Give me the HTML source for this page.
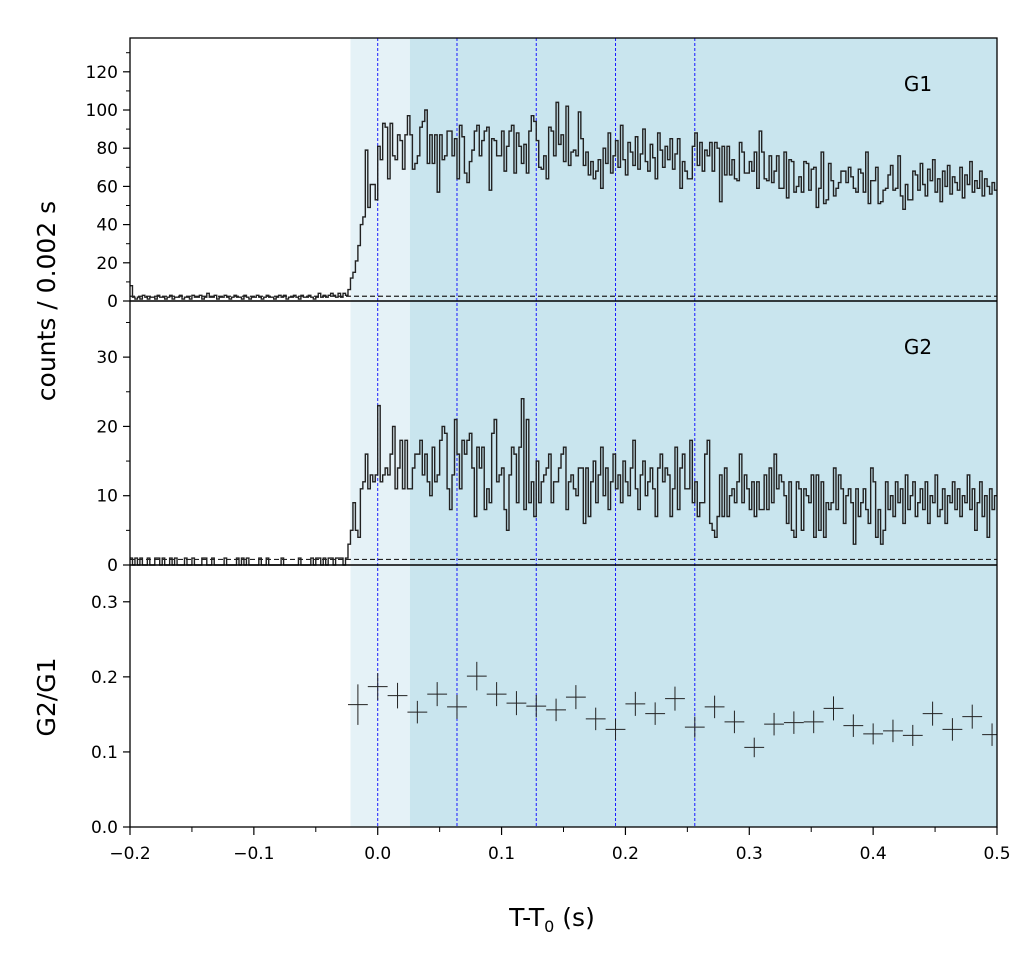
<!DOCTYPE html>
<html><head><meta charset="utf-8"><style>
html,body{margin:0;padding:0;background:#fff;}
svg{display:block;font-family:"DejaVu Sans","Liberation Sans",sans-serif;}
</style></head><body>
<svg id="chart" width="1034" height="965" viewBox="0 0 1034 965" xmlns="http://www.w3.org/2000/svg">
<defs><clipPath id="plotclip"><rect x="130" y="38" width="867" height="789"/></clipPath></defs>
</svg>
<script>
// ---- data ----
const tStart = -0.2;
const binWidth = 0.002;
const g1Counts = [8,2,1,2,1,3,2,1,2,2,1,3,2,2,1,2,3,1,2,2,3,1,2,2,1,3,2,2,3,1,2,4,2,2,3,1,2,2,3,2,1,2,3,2,2,1,3,2,1,2,2,3,2,1,2,3,2,2,1,2,3,2,3,1,2,2,3,2,1,3,2,2,3,2,1,2,4,2,3,2,3,4,3,2,4,2,4,
3,6,12,15,21,29,40,44,79,49,61,61,53,
81,74,93,91,64,93,76,74,87,84,69,87,97,87,69,72,76,91,94,100,72,87,72,87,57,87,74,76,89,89,76,85,64,92,86,67,62,73,79,89,92,76,84,89,91,58,85,84,76,76,89,68,81,89,92,67,88,81,72,82,67,89,97,94,84,70,69,76,64,91,89,76,104,82,87,73,102,71,78,79,76,99,85,71,78,66,73,64,68,74,59,
80,72,88,67,76,84,70,92,74,66,83,78,71,86,69,77,90,73,68,82,75,64,88,79,70,81,74,85,69,77,
85,59,73,68,64,64,81,88,71,83,68,79,76,83,68,83,80,52,81,66,81,66,74,64,63,83,78,67,67,73,68,78,59,89,78,64,63,76,62,68,76,59,59,78,54,74,73,57,60,65,57,73,72,58,69,70,49,59,78,51,53,72,63,55,59,62,68,68,62,70,65,59,57,69,67,57,78,51,63,63,70,51,52,58,59,66,71,58,59,76,55,48,61,53,53,68,
66,58,72,61,55,69,63,74,57,64,52,68,60,71,56,65,62,58,70,54,66,61,73,57,63,59,68,55,64,60,56,62,58];
const g2Counts = [1,0,1,0,1,0,0,1,0,0,1,1,0,1,0,0,1,0,1,0,0,0,1,0,0,1,0,0,0,1,1,0,0,1,0,0,0,0,1,0,0,0,0,1,0,1,0,1,0,0,0,0,1,0,0,1,0,0,0,0,0,1,0,0,0,0,0,0,1,0,0,0,0,1,0,1,1,0,1,0,1,1,0,1,1,1,0,
1,3,5,9,5,4,11,12,16,11,13,12,
13,23,12,13,14,13,16,20,11,14,18,11,18,11,11,14,16,16,18,13,16,12,10,17,12,13,18,20,19,11,8,13,21,16,11,18,16,18,19,14,7,17,14,17,8,11,9,19,21,12,13,14,8,5,13,17,16,9,17,24,8,21,9,12,7,15,9,12,13,14,16,9,12,12,14,16,17,8,12,13,11,10,14,14,6,14,7,
12,15,9,13,17,10,14,8,12,16,11,13,9,15,12,10,14,18,11,8,13,15,10,12,
14,11,7,14,16,12,14,13,7,11,17,8,14,16,11,11,18,9,12,7,9,9,16,18,6,5,4,7,13,7,14,7,10,11,9,12,16,9,13,11,8,12,7,12,8,8,13,8,14,9,16,11,13,12,10,6,12,5,4,12,11,5,11,10,9,13,4,13,5,12,4,9,8,9,14,8,13,11,6,10,11,9,3,11,7,9,11,8,6,14,12,4,8,3,5,12,8,
10,7,12,9,11,6,13,8,10,12,7,9,11,8,12,6,10,9,13,7,8,11,6,10,9,12,8,11,7,10,9,
13,8,11,5,9,12,7,10,4,11,8,10];
const g1Background = 2.5;
const g2Background = 0.8;
const ratioTimes = [-0.016,0.0,0.016,0.032,0.048,0.064,0.08,0.096,0.112,0.128,0.144,0.16,0.176,0.192,0.208,0.224,0.24,0.256,0.272,0.288,0.304,0.32,0.336,0.352,0.368,0.384,0.4,0.416,0.432,0.448,0.464,0.48,0.496];
const ratioValues = [0.163,0.187,0.175,0.153,0.177,0.160,0.201,0.177,0.165,0.161,0.156,0.173,0.144,0.130,0.164,0.151,0.171,0.133,0.160,0.140,0.106,0.137,0.139,0.140,0.158,0.135,0.124,0.128,0.122,0.151,0.130,0.147,0.123];
const ratioErrors = [0.027,0.018,0.017,0.015,0.016,0.016,0.019,0.016,0.016,0.015,0.015,0.016,0.015,0.014,0.016,0.015,0.016,0.014,0.015,0.015,0.013,0.015,0.015,0.015,0.016,0.015,0.014,0.015,0.014,0.016,0.015,0.016,0.015];
const xTicks = [-0.2,-0.1,0.0,0.1,0.2,0.3,0.4,0.5];
const xTickLabels = ["\u22120.2","\u22120.1","0.0","0.1","0.2","0.3","0.4","0.5"];
const g1Ticks = [0,20,40,60,80,100,120];
const g2Ticks = [0,10,20,30];
const ratioTicks = [0.0,0.1,0.2,0.3];
const ratioTickLabels = ["0.0","0.1","0.2","0.3"];
const dividerTimes = [0,0.064,0.128,0.192,0.256];
const lightRegion = [-0.022,0.026];
const darkRegion = [0.026,0.5];

// ---- layout ----
const NS = "http://www.w3.org/2000/svg";
const svg = document.getElementById('chart');
const X0 = 130, X1 = 997;
const xMin = -0.2, xMax = 0.5;
const xs = t => X0 + (t - xMin) / (xMax - xMin) * (X1 - X0);
const panels = [
  {top:38, bottom:301, max:137.7},
  {top:301, bottom:565, max:38.1},
  {top:565, bottom:827, max:0.349}
];
const ys = (p, v) => p.bottom - v / p.max * (p.bottom - p.top);
function mk(tag, attrs, parent){
  const e = document.createElementNS(NS, tag);
  for (const k in attrs) e.setAttribute(k, attrs[k]);
  (parent || svg).appendChild(e);
  return e;
}
function txt(s, attrs){ const e = mk('text', attrs); e.textContent = s; return e; }

const plot = mk('g', {'clip-path': 'url(#plotclip)'});



let r = mk('rect', {x: xs(lightRegion[0]), y: 38, width: xs(lightRegion[1]) - xs(lightRegion[0]), height: 827-38, fill: '#e5f2f7'}, plot);


r = mk('rect', {x: xs(darkRegion[0]), y: 38, width: xs(darkRegion[1]) - xs(darkRegion[0]), height: 827-38, fill: '#c9e5ee'}, plot);


dividerTimes.forEach(t => {
  const l = mk('line', {x1: xs(t), x2: xs(t), y1: 38, y2: 827, stroke: '#1a1aff', 'stroke-width': 1, 'stroke-dasharray': '3,2'}, plot);
  
  
});

function hist(p, counts, bg, name, bgName){
  let d = '';
  counts.forEach((c, i) => {
    const xa = xs(tStart + i * binWidth), xb = xs(tStart + (i + 1) * binWidth), y = ys(p, c);
    d += (i === 0 ? 'M' + xa + ',' + y : 'L' + xa + ',' + y) + 'L' + xb + ',' + y;
  });
  const h = mk('path', {d: d, fill: 'none', stroke: '#222', 'stroke-width': 1.4}, plot);
  
  
  const b = mk('line', {x1: X0, x2: X1, y1: ys(p, bg), y2: ys(p, bg), stroke: '#222', 'stroke-width': 1.2, 'stroke-dasharray': '5,3'}, plot);
  
  
}
hist(panels[0], g1Counts, g1Background, 'g1-lightcurve', 'g1-background-line');
hist(panels[1], g2Counts, g2Background, 'g2-lightcurve', 'g2-background-line');

ratioTimes.forEach((t, i) => {
  const g = mk('g', {}, plot);
  
  
  const p = panels[2], cx = xs(t), cy = ys(p, ratioValues[i]);
  mk('line', {x1: xs(t - 0.008), x2: xs(t + 0.008), y1: cy, y2: cy, stroke: '#222', 'stroke-width': 1}, g);
  mk('line', {x1: cx, x2: cx, y1: ys(p, ratioValues[i] + ratioErrors[i]), y2: ys(p, ratioValues[i] - ratioErrors[i]), stroke: '#222', 'stroke-width': 1}, g);
});

let f = mk('rect', {x: X0, y: 38, width: X1 - X0, height: 827 - 38, fill: 'none', stroke: '#000', 'stroke-width': 1.3});


[301, 565].forEach(y => {
  const l = mk('line', {x1: X0, x2: X1, y1: y, y2: y, stroke: '#000', 'stroke-width': 1.6});
  
  
});

function yTicks(p, ticks, labels, minorStep, name){
  ticks.forEach((v, i) => {
    const y = ys(p, v);
    mk('line', {x1: X0 - 7, x2: X0, y1: y, y2: y, stroke: '#000', 'stroke-width': 1.2});
    const t = txt(labels ? labels[i] : String(v), {x: X0 - 12, y: y + 6, 'font-size': 17, 'text-anchor': 'end', fill: '#000'});
    
    
  });
  if (minorStep) {
    for (let v = minorStep; v < p.max; v += 2 * minorStep) {
      const y = ys(p, v);
      mk('line', {x1: X0 - 4, x2: X0, y1: y, y2: y, stroke: '#000', 'stroke-width': 1});
    }
  }
}
yTicks(panels[0], g1Ticks, null, 10, 'g1-y');
yTicks(panels[1], g2Ticks, null, 5, 'g2-y');
yTicks(panels[2], ratioTicks, ratioTickLabels, 0, 'ratio-y');

xTicks.forEach((v, i) => {
  const x = xs(v);
  mk('line', {x1: x, x2: x, y1: 827, y2: 835, stroke: '#000', 'stroke-width': 1.2});
  const t = txt(xTickLabels[i], {x: x, y: 859, 'font-size': 17, 'text-anchor': 'middle', fill: '#000'});
  
  
  if (i < xTicks.length - 1) {
    const xm = xs(v + 0.05);
    mk('line', {x1: xm, x2: xm, y1: 827, y2: 832, stroke: '#000', 'stroke-width': 1});
  }
});

let t = txt('G1', {x: 918, y: 91, 'font-size': 20, 'text-anchor': 'middle'});


t = txt('G2', {x: 918, y: 354, 'font-size': 20, 'text-anchor': 'middle'});


t = txt('counts /  0.002 s', {x: 0, y: 0, 'font-size': 25, 'text-anchor': 'middle', transform: 'translate(55,301) rotate(-90)'});


t = txt('G2/G1', {x: 0, y: 0, 'font-size': 25, 'text-anchor': 'middle', transform: 'translate(55,697) rotate(-90)'});


t = mk('text', {x: 552, y: 926, 'font-size': 25, 'text-anchor': 'middle'});
t.innerHTML = 'T-T<tspan font-size="16" dy="6">0</tspan><tspan dy="-6"> (s)</tspan>';


</script>
</body></html>
